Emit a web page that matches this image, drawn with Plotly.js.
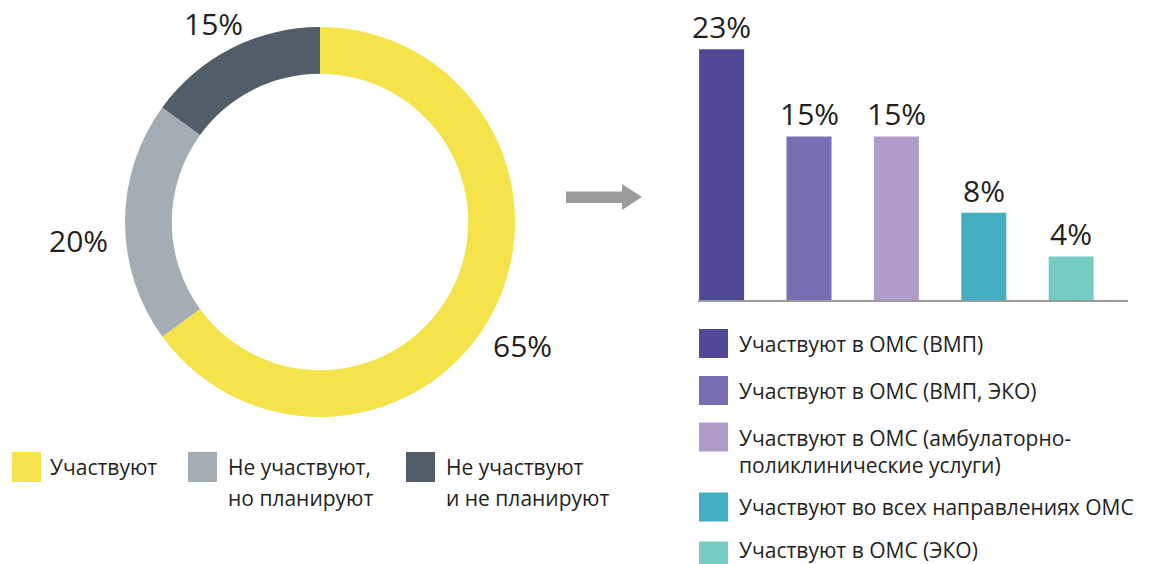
<!DOCTYPE html>
<html>
<head>
<meta charset="utf-8">
<script src="https://cdn.plot.ly/plotly-3.0.1.min.js"></script>
<style>
  html, body { margin: 0; padding: 0; background: #fff; }
  #chart { width: 1152px; height: 564px; }
</style>
</head>
<body>
<div id="chart"></div>
<script>
// ---- Data ----
const pieLabels = ["Участвуют", "Не участвуют,\nно планируют", "Не участвуют\nи не планируют"];
const pieValues = [65, 20, 15];
const pieColors = ["#F5E34B", "#A4ADB3", "#515E6A"];

const barLabels = ["Участвуют в ОМС (ВМП)", "Участвуют в ОМС (ВМП, ЭКО)", "Участвуют в ОМС (амбулаторно-\nполиклинические услуги)", "Участвуют во всех направлениях ОМС", "Участвуют в ОМС (ЭКО)"];
const barValues = [23, 15, 15, 8, 4];
const barColors = ["#4F4895", "#7670B2", "#B19BCB", "#43ADC1", "#77CCC2"];

// ---- helpers (pixel -> paper) ----
const W = 1152, H = 564;
const px = x => x / W;
const py = y => 1 - y / H;
const FONT = "Open Sans, Noto Sans, sans-serif";
const TXT = "#231F20";

const traces = [
  {
    type: "pie",
    labels: pieLabels.map(l => l.replace("\n", " ")),
    values: pieValues,
    marker: { colors: pieColors, line: { width: 0 } },
    hole: 0.76,
    sort: false,
    direction: "clockwise",
    rotation: 0,
    textinfo: "none",
    hoverinfo: "label+percent",
    showlegend: false,
    domain: { x: [px(125), px(515)], y: [py(417), py(27)] }
  },
  {
    type: "bar",
    x: barLabels.map(l => l.replace("\n", " ")),
    y: barValues,
    marker: { color: barColors, line: { width: 0 } },
    width: 0.515,
    showlegend: false,
    hoverinfo: "x+y",
    xaxis: "x", yaxis: "y"
  }
];

const annotations = [];
const shapes = [];

// donut value labels
const pieLabelPos = [[522, 345], [78, 241], [213, 24]];
pieValues.forEach((v, i) => {
  annotations.push({
    xref: "paper", yref: "paper",
    x: px(pieLabelPos[i][0]), y: py(pieLabelPos[i][1]),
    xanchor: "center", yanchor: "middle",
    text: v + "%", showarrow: false,
    font: { family: FONT, size: 30, color: TXT }
  });
});

// bar value labels
barValues.forEach((v, i) => {
  annotations.push({
    xref: "x", yref: "y",
    x: barLabels[i].replace("\n", " "), y: v,
    xanchor: "center", yanchor: "bottom", yshift: 0,
    text: v + "%", showarrow: false,
    font: { family: FONT, size: 30, color: TXT }
  });
});

// pie legend (manual)
const pieLegX = [12, 188, 406];
pieLabels.forEach((lab, i) => {
  shapes.push({
    type: "rect", xref: "paper", yref: "paper",
    x0: px(pieLegX[i]), x1: px(pieLegX[i] + 29),
    y0: py(482), y1: py(452),
    fillcolor: pieColors[i], line: { width: 0 }
  });
  lab.split("\n").forEach((line, j) => {
    annotations.push({
      xref: "paper", yref: "paper",
      x: px(pieLegX[i] + (i === 0 ? 36 : 38)), y: py(467 + j * 31),
      xanchor: "left", yanchor: "middle",
      text: line, showarrow: false,
      font: { family: FONT, size: 21, color: TXT }
    });
  });
});

// bar legend (manual)
const barLegY = [343.5, 390.5, 437, 507, 556];
const barLegTextY = [344, 391, 438, 507, 550];
barLabels.forEach((lab, i) => {
  shapes.push({
    type: "rect", xref: "paper", yref: "paper",
    x0: px(699), x1: px(728),
    y0: py(barLegY[i] + 14.5), y1: py(barLegY[i] - 14.5),
    fillcolor: barColors[i], line: { width: 0 }
  });
  const lines = lab.split("\n");
  annotations.push({
    xref: "paper", yref: "paper",
    x: px(737), y: py(barLegTextY[i] + (lines.length - 1) * 13.5),
    xanchor: "left", yanchor: "middle", align: "left",
    text: lines.join("<br>"), showarrow: false,
    font: { family: FONT, size: 21, color: TXT }
  });
});

// arrow
const arrowPts = [[566, 191.5], [622, 191.5], [622, 184], [642, 197], [622, 210], [622, 203], [566, 203]];
shapes.push({
  type: "path", xref: "paper", yref: "paper",
  path: "M" + arrowPts.map(p => px(p[0]) + "," + py(p[1])).join("L") + "Z",
  fillcolor: "#9B9B9B", line: { width: 0 }
});

const layout = {
  width: W, height: H,
  margin: { l: 0, r: 0, t: 0, b: 0, pad: 0 },
  paper_bgcolor: "#ffffff",
  plot_bgcolor: "rgba(0,0,0,0)",
  showlegend: false,
  xaxis: {
    domain: [px(698), px(1128)],
    range: [-0.27, 4.65],
    showticklabels: false, ticks: "",
    showgrid: false, zeroline: false,
    showline: true, linecolor: "#9A9A9A", linewidth: 2,
    fixedrange: true
  },
  yaxis: {
    domain: [py(300), py(10)],
    range: [0, 26.6],
    visible: false, showgrid: false, zeroline: false,
    fixedrange: true
  },
  annotations: annotations,
  shapes: shapes,
  font: { family: FONT }
};

Plotly.newPlot("chart", traces, layout, { displayModeBar: false, staticPlot: true });
</script>
</body>
</html>
